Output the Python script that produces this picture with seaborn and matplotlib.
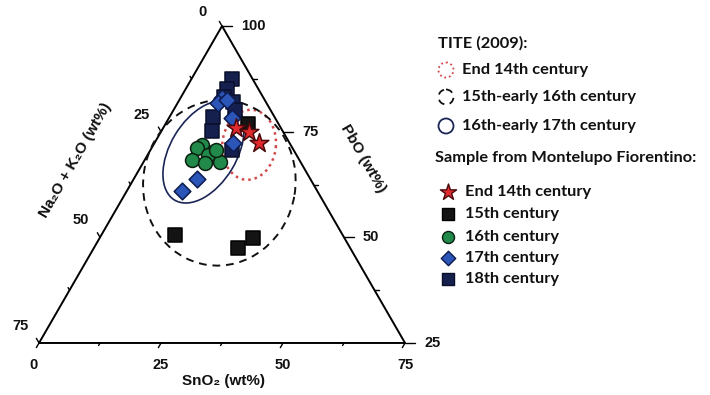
import numpy as np
import pandas as pd
import seaborn as sns
import matplotlib
matplotlib.use("Agg")
import matplotlib.pyplot as plt
from matplotlib.patches import Ellipse, Circle

# Montelupo samples, SnO2 and PbO in wt% (Na2O + K2O is the rest)
end14_sno2 = [14.9, 18.1, 21.4]
end14_pbo = [75.9, 74.9, 72.3]
c15_sno2 = [16.9, 15.1, 31.4, 29.5]
c15_pbo = [76.8, 50.6, 49.8, 47.5]
c16_sno2 = [10.0, 9.3, 13.1, 12.4, 9.7, 12.7, 15.7, 13.4]
c16_pbo = [71.8, 71.1, 70.2, 69.5, 68.3, 67.6, 67.8, 70.7]
c17_sno2 = [8.5, 8.3, 9.8, 12.9, 16.1, 13.0, 11.3]
c17_pbo = [83.0, 81.8, 82.5, 78.2, 72.3, 63.8, 61.0]
c18_sno2 = [8.3, 8.5, 8.8, 11.2, 12.6, 8.9, 10.4, 16.7]
c18_pbo = [87.5, 85.1, 83.2, 82.0, 80.1, 78.5, 75.2, 70.7]

# Tite (2009) fields: centre SnO2, centre PbO, width, height, angle
tite_labels = ["End 14th century", "15th-early 16th century", "16th-early 17th century"]
tite_sno2 = [19.6, 18.0, 11.1]
tite_pbo = [71.9, 62.9, 70.2]
tite_w = [14.4, 34.0, 23.0]
tite_h = [11.0, 31.2, 13.6]
tite_ang = [84, 81, 59]

tick_vals = [0, 25, 50, 75]
minor_vals = [12.5, 37.5, 62.5]

SQ3 = np.sqrt(3) / 2


def to_xy(sno2, pbo):
    sno2 = np.asarray(sno2, float)
    pbo = np.asarray(pbo, float)
    return sno2 + 0.5 * (pbo - 25), (pbo - 25) * SQ3


sns.set_theme(style="white")
plt.rcParams["font.family"] = ["Liberation Sans", "DejaVu Sans"]

fig = plt.figure(figsize=(7.1, 3.95), dpi=100)
ax = fig.add_axes([0, 0, 1, 1])
ax.set_xlim(-8.0, 137.5)
ax.set_ylim(-10.66, 70.29)
ax.axis("off")

# triangle frame
ax.plot([0, 75, 37.5, 0], [0, 0, 75 * SQ3, 0], color="black", lw=1.4, zorder=2)

# ticks
for v in tick_vals + minor_vals:
    major = v in tick_vals
    L = 1.1 if major else 0.6
    # bottom: SnO2
    ax.plot([v, v - 0.5 * L], [0, -SQ3 * L], color="black", lw=1.0)
    # right: PbO = 100 - v
    x0, y0 = to_xy(v, 100 - v)
    ax.plot([x0, x0 + (2.0 if major else 0.9)], [y0, y0], color="black", lw=1.0)
    # left: Na2O+K2O = v
    x0, y0 = to_xy(0, 100 - v)
    ax.plot([x0, x0 - 0.5 * L], [y0, y0 + SQ3 * L], color="black", lw=1.0)

tfont = dict(fontsize=10.5, color="#111111", fontweight="bold")
for v in tick_vals:
    ax.text(v - (1.2 if v == 0 else 0), -4.5, f"{v}", ha="center", va="center", **tfont)
    x0, y0 = to_xy(v, 100 - v)
    ax.text(x0 + 3.9, y0, f"{100 - v}", ha="left", va="center", **tfont)
    x0, y0 = to_xy(0, 100 - v)
    ax.text(x0 - 3.9, y0 + (2.8 if v == 0 else 3.5), f"{v}", ha="center", va="center", **tfont)

afont = dict(fontsize=11, color="#111111", fontweight="bold", ha="center", va="center")
ax.text(37.7, -7.8, "SnO₂ (wt%)", **afont)
ax.text(7.4, 37.5, "Na₂O + K₂O (wt%)", rotation=60, **afont)
ax.text(66.4, 37.9, "PbO (wt%)", rotation=-60, **afont)

# Tite fields
field_styles = [
    dict(edgecolor="#d2484a", linestyle=(0, (1, 1.6)), lw=1.8),
    dict(edgecolor="#111111", linestyle=(0, (4, 3)), lw=1.4),
    dict(edgecolor="#1b2656", linestyle="-", lw=1.2),
]
for i in range(3):
    cx, cy = to_xy(tite_sno2[i], tite_pbo[i])
    ax.add_patch(Ellipse((cx, cy), tite_w[i], tite_h[i], angle=tite_ang[i],
                         facecolor="none", zorder=3, **field_styles[i]))

# samples
groups = [
    ("15th century", c15_sno2, c15_pbo),
    ("18th century", c18_sno2, c18_pbo),
    ("17th century", c17_sno2, c17_pbo),
    ("16th century", c16_sno2, c16_pbo),
    ("End 14th century", end14_sno2, end14_pbo),
]
rows = []
for name, sn, pb in groups:
    xs, ys = to_xy(sn, pb)
    for a, b in zip(xs, ys):
        rows.append({"x": a, "y": b, "group": name})
df = pd.DataFrame(rows)

mstyle = {
    "15th century": dict(marker="s", color="#141414", s=95, edgecolor="#000000"),
    "18th century": dict(marker="s", color="#16204e", s=95, edgecolor="#0a0f2a"),
    "17th century": dict(marker="D", color="#2c55b8", s=72, edgecolor="#0c1a4e"),
    "16th century": dict(marker="o", color="#218a4a", s=100, edgecolor="#0b1f10"),
    "End 14th century": dict(marker="*", color="#e02a2e", s=200, edgecolor="#4a0a0c"),
}
for k, (name, _, _) in enumerate(groups):
    sns.scatterplot(data=df[df["group"] == name], x="x", y="y", ax=ax,
                    linewidth=1.1, legend=False, zorder=4 + k, **mstyle[name])

# legend drawn in pixel space
lax = fig.add_axes([0, 0, 1, 1])
lax.set_xlim(0, 710)
lax.set_ylim(395, 0)
lax.axis("off")
lax.patch.set_alpha(0)

lfont = dict(family=["Lato", "DejaVu Sans"], fontsize=11.8, fontweight="bold", color="#111111")
lax.text(438, 43, "TITE (2009):", ha="left", va="center", **lfont)
for i, yy in enumerate([70, 97, 126]):
    st = dict(field_styles[i])
    st["lw"] = 1.3
    lax.add_patch(Circle((446, yy), 7.5, facecolor="none", **st))
    lax.text(462, yy, tite_labels[i], ha="left", va="center", **lfont)

lax.text(435, 158, "Sample from Montelupo Fiorentino:", ha="left", va="center", **lfont)
leg_order = ["End 14th century", "15th century", "16th century", "17th century", "18th century"]
for name, yy in zip(leg_order, [192, 214, 237, 258, 279]):
    st = dict(mstyle[name])
    st["s"] = st["s"] * 0.75
    lax.scatter([448], [yy], linewidth=1.0, **st)
    lax.text(465, yy, name, ha="left", va="center", **lfont)

fig.savefig("out.png", dpi=100)
